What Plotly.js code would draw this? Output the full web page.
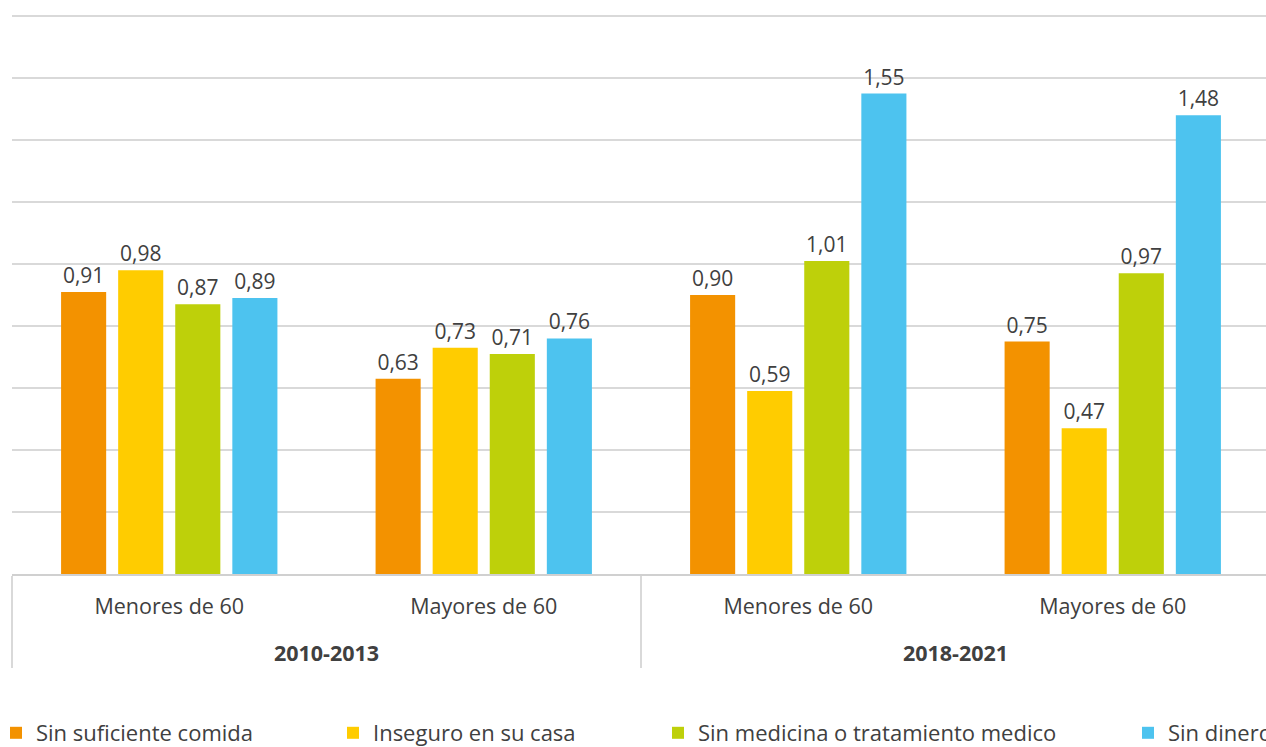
<!DOCTYPE html>
<html>
<head>
<meta charset="utf-8">
<script src="https://cdn.plot.ly/plotly-3.0.1.min.js"></script>
<style>html,body{margin:0;padding:0;background:#fff;overflow:hidden;}#chart{width:1270px;height:747px;}</style>
</head>
<body>
<div id="chart"></div>
<script>
const periods = ["2010-2013", "2010-2013", "2018-2021", "2018-2021"];
const groups = ["Menores de 60", "Mayores de 60", "Menores de 60", "Mayores de 60"];
const seriesNames = ["Sin suficiente comida", "Inseguro en su casa", "Sin medicina o tratamiento medico", "Sin dinero"];
const comida = [0.91, 0.63, 0.90, 0.75];
const inseguro = [0.98, 0.73, 0.59, 0.47];
const medicina = [0.87, 0.71, 1.01, 0.97];
const dinero = [0.89, 0.76, 1.55, 1.48];
const colors = ["#F39200", "#FFCC00", "#BED00A", "#4DC3EF"];
const legendX = [-4, 333, 658, 1128];

const values = [comida, inseguro, medicina, dinero];
const legendIds = ["legend", "legend2", "legend3", "legend4"];
const textColor = "#404040";
const fontFam = "'Open Sans', sans-serif";
const outerLabels = periods.map(p => "&nbsp;<br><b>" + p + "</b>");

const traces = values.map((v, i) => ({
  type: "bar",
  name: seriesNames[i],
  x: [outerLabels, groups],
  y: v,
  marker: {color: colors[i]},
  text: v.map(n => n.toFixed(2).replace(".", ",")),
  textposition: "outside",
  textfont: {size: 21, color: textColor, family: fontFam},
  cliponaxis: false,
  legend: legendIds[i],
  hoverinfo: "skip"
}));

const plotLeft = 12, plotW = 1258, plotTop = 13, plotH = 561;
const layout = {
  width: 1270, height: 747,
  margin: {l: 12, r: 0, t: 13, b: 173, autoexpand: false},
  paper_bgcolor: "#fff", plot_bgcolor: "#fff",
  separators: ",.",
  barmode: "group",
  bargap: 0.274,
  bargroupgap: 0.21,
  font: {family: fontFam, color: textColor, size: 21},
  xaxis: {
    type: "multicategory",
    showline: true, linecolor: "#d0d0d0", linewidth: 2,
    ticks: "", showgrid: false,
    showdividers: true, dividercolor: "#d9d9d9", dividerwidth: 2,
    ticklabelstandoff: 12,
    tickfont: {size: 21.5, color: textColor, family: fontFam}
  },
  yaxis: {
    range: [0, 1.8 * 561 / 558], dtick: 0.2, tick0: 0,
    showticklabels: false, ticks: "",
    showgrid: true, gridcolor: "#d9d9d9", gridwidth: 2,
    zeroline: false, showline: false
  },
  showlegend: true
};
legendIds.forEach((id, i) => {
  layout[id] = {
    x: (legendX[i] - plotLeft) / plotW, xanchor: "left",
    y: (plotTop + plotH - 733) / plotH, yanchor: "middle",
    orientation: "h",
    font: {size: 22, color: textColor, family: fontFam},
    bgcolor: "rgba(0,0,0,0)"
  };
});
Plotly.newPlot("chart", traces, layout, {displayModeBar: false, staticPlot: true});
</script>
</body>
</html>
